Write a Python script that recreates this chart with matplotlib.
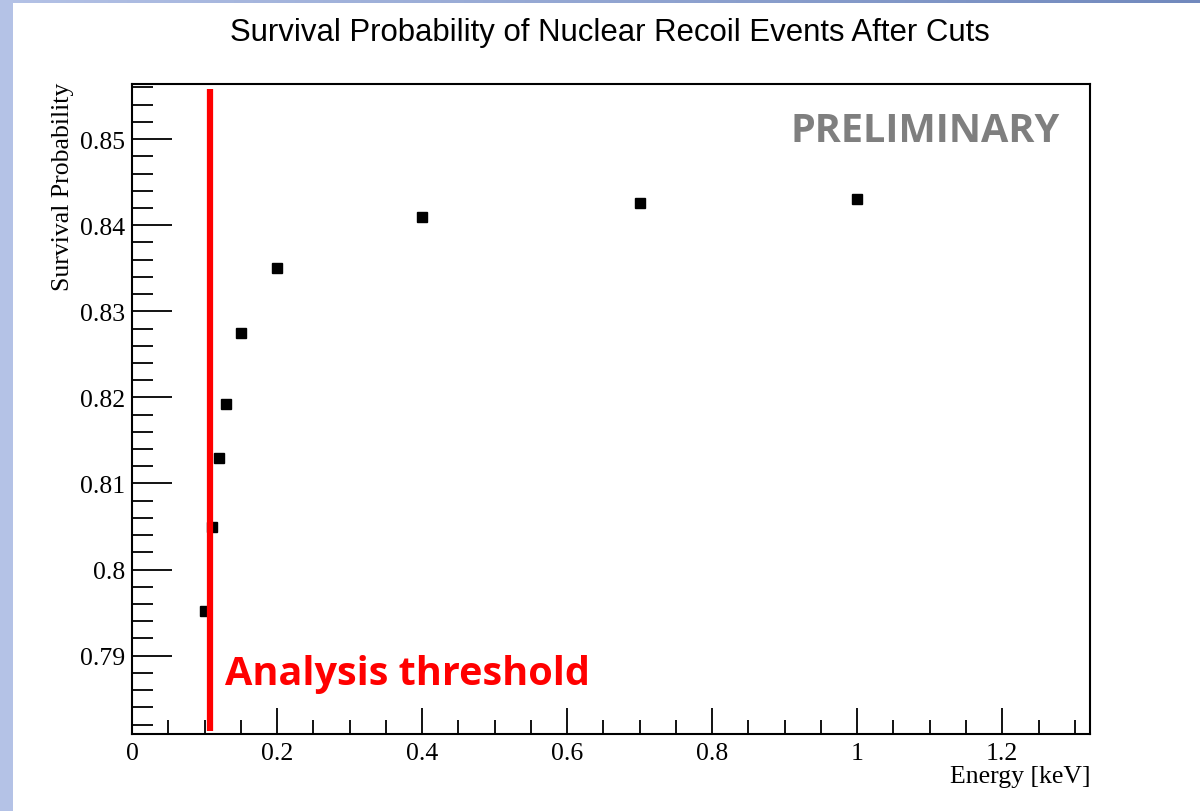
import numpy as np
import matplotlib
matplotlib.use("Agg")
import matplotlib.pyplot as plt
from matplotlib.ticker import MultipleLocator, FormatStrFormatter
from matplotlib.patches import Rectangle

# data
energy = [0.10, 0.11, 0.12, 0.13, 0.15, 0.20, 0.40, 0.70, 1.00]
survival = [0.7952, 0.8050, 0.8130, 0.8192, 0.8275, 0.8350, 0.8409, 0.8426, 0.8430]
threshold = 0.107

title = "Survival Probability of Nuclear Recoil Events After Cuts"
xlabel = "Energy [keV]"
ylabel = "Survival Probability"

fig = plt.figure(figsize=(12, 8.12), dpi=100)
fig.patch.set_facecolor("white")

# slide decoration: left strip and top gradient bar
fig.patches.append(Rectangle((0, 0), 13 / 1200, 1, transform=fig.transFigure,
                             facecolor="#b4c2e6", edgecolor="none", zorder=0))
bar = fig.add_axes([0, 1 - 4 / 812, 1, 4 / 812])
grad = np.linspace(0, 1, 256).reshape(1, -1)
cmap = matplotlib.colors.LinearSegmentedColormap.from_list("bar", ["#b4c2e6", "#7189bd"])
bar.imshow(grad, aspect="auto", cmap=cmap)
bar.axis("off")

ax = fig.add_axes([132 / 1200, 1 - 735 / 812, 958 / 1200, 650 / 812])
serif = "Liberation Serif"

ax.plot(energy, survival, "s", color="black", markersize=6.8, zorder=3)
ax.plot([threshold, threshold], [0.7812, 0.8558], color="#ff0000", lw=4.5, zorder=4,
        solid_capstyle="butt")

ax.set_xlim(0, 1.321)
ax.set_ylim(0.7809, 0.8564)

ax.xaxis.set_major_locator(MultipleLocator(0.2))
ax.xaxis.set_minor_locator(MultipleLocator(0.05))
ax.yaxis.set_major_locator(MultipleLocator(0.01))
ax.yaxis.set_minor_locator(MultipleLocator(0.002))
ax.xaxis.set_major_formatter(FormatStrFormatter("%g"))
ax.yaxis.set_major_formatter(FormatStrFormatter("%g"))

ax.tick_params(axis="x", which="major", direction="in", length=19, width=1.3, pad=6)
ax.tick_params(axis="x", which="minor", direction="in", length=10, width=1.3)
ax.tick_params(axis="y", which="major", direction="in", length=29, width=1.3, pad=5)
ax.tick_params(axis="y", which="minor", direction="in", length=15, width=1.3)
for lab in ax.get_xticklabels() + ax.get_yticklabels():
    lab.set_fontfamily(serif)
    lab.set_fontsize(18.5)
for s in ax.spines.values():
    s.set_linewidth(1.5)

fig.text(610 / 1200, 1 - 33 / 812, title, ha="center", va="center",
         fontsize=22.4, family="Liberation Sans")
fig.text(1090 / 1200, 1 - 777 / 812, xlabel, ha="right", va="center",
         fontsize=18.5, family=serif)
fig.text(63 / 1200, 1 - 83 / 812, ylabel, ha="center", va="top", rotation=90,
         fontsize=18.5, family=serif)

fig.text(225 / 1200, 1 - 685 / 812, "Analysis threshold", ha="left", va="baseline",
         color="#ff0000", fontsize=28.5, fontweight="bold", family="Open Sans")
fig.text(1060 / 1200, 1 - 142 / 812, "PRELIMINARY", ha="right", va="baseline",
         color="#7f7f7f", fontsize=28.5, fontweight="bold", family="Open Sans")

fig.savefig("out.png", dpi=100, facecolor="white")
